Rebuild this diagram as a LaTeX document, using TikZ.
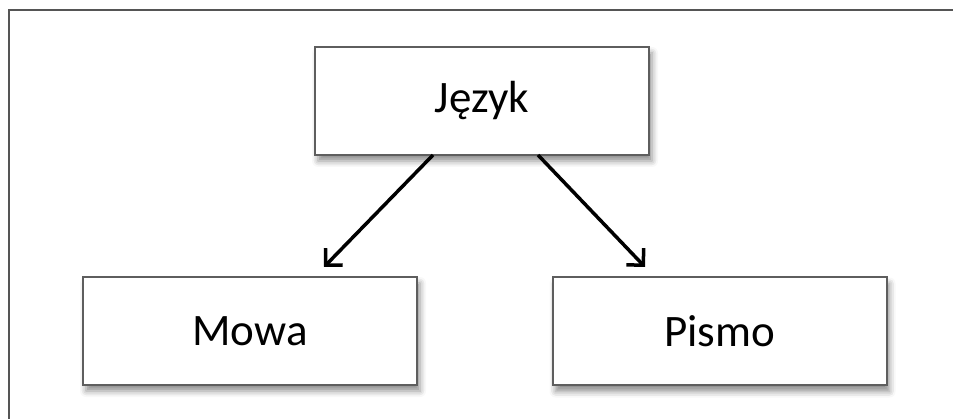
\documentclass[tikz,border=0pt]{standalone}
\usepackage{fontspec}
\setmainfont{Carlito}
\usetikzlibrary{arrows.meta,shadows.blur}
\definecolor{edgegray}{HTML}{5E5E5E}
\definecolor{framegray}{HTML}{555555}
\tikzset{
  conceptbox/.style={draw=edgegray, line width=2pt, fill=white,
    minimum width=334pt, minimum height=108pt, inner sep=0pt,
    font=\fontsize{45}{54}\selectfont,
    blur shadow={shadow xshift=3pt, shadow yshift=-6pt, shadow blur radius=6pt, shadow opacity=45}},
  link/.style={line width=3.5pt, black,
    -{Straight Barb[angle=90:17pt, line width=3.5pt]}}
}
\begin{document}
\begin{tikzpicture}[x=1pt, y=-1pt]
  \useasboundingbox (0,0) rectangle (953,419);
  % page frame: only the top and left edges are drawn
  \draw[framegray, line width=2pt] (9,419) -- (9,10) -- (953,10);
  % concept boxes
  \node[conceptbox] (jezyk) at (482,101) {Język};
  \node[conceptbox] (mowa)  at (250,331) {Mowa};
  \node[conceptbox] (pismo) at (719.5,331.5) {Pismo};
  % connectors
  \coordinate (jl) at (433,155);
  \coordinate (jr) at (538,155);
  \coordinate (mt) at (324,267);
  \coordinate (pt) at (645,267);
  \draw[link] (jl) -- (mt);
  \draw[link] (jr) -- (pt);
\end{tikzpicture}
\end{document}
